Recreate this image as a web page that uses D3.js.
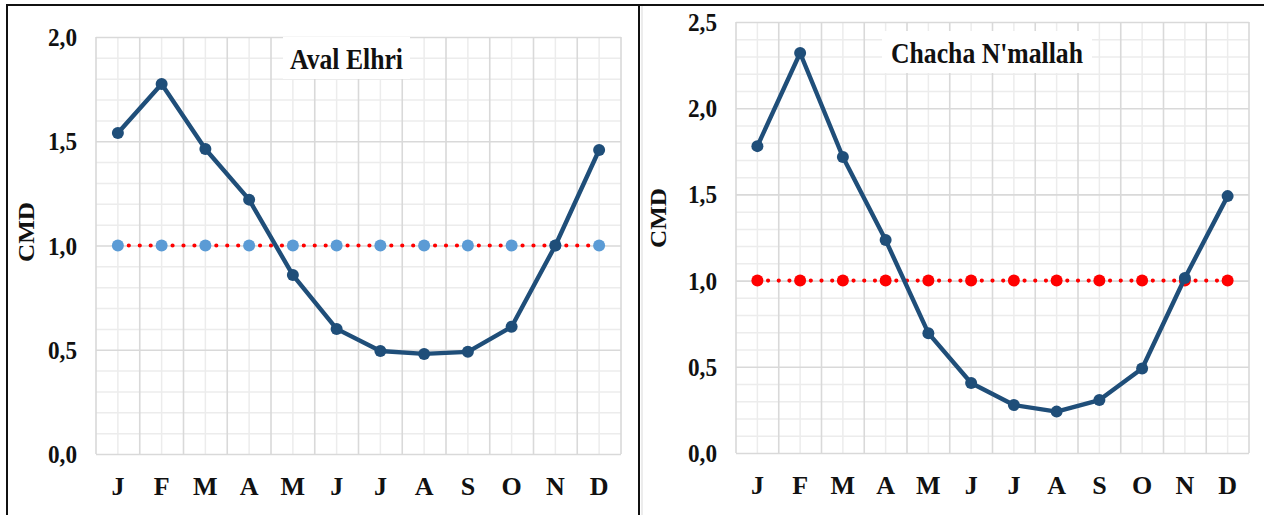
<!DOCTYPE html>
<html>
<head>
<meta charset="utf-8">
<script src="https://cdn.jsdelivr.net/npm/d3@7"></script>
<style>
  html, body { margin: 0; padding: 0; background: #fff; }
  svg { display: block; }
  text { font-family: "Liberation Serif", "Times New Roman", serif; font-weight: bold; fill: #111; }
</style>
</head>
<body>
<svg id="chart" width="1264" height="515"></svg>
<script>
// ---- data ----
const months = ["J", "F", "M", "A", "M", "J", "J", "A", "S", "O", "N", "D"];

const avalTitle = "Aval Elhri";
const avalCMD = [1.54, 1.775, 1.463, 1.22, 0.858, 0.60, 0.494, 0.48, 0.49, 0.61, 1.0, 1.458];
const avalRef = [1, 1, 1, 1, 1, 1, 1, 1, 1, 1, 1, 1];
const avalTicks = [0, 0.5, 1.0, 1.5, 2.0];

const chachaTitle = "Chacha N'mallah";
const chachaCMD = [1.78, 2.32, 1.717, 1.235, 0.695, 0.406, 0.278, 0.24, 0.307, 0.49, 1.015, 1.49];
const chachaRef = [1, 1, 1, 1, 1, 1, 1, 1, 1, 1, 1, 1];
const chachaTicks = [0, 0.5, 1.0, 1.5, 2.0, 2.5];

const yLabel = "CMD";

// ---- drawing ----
const svg = d3.select("#chart");
const fmt = d => d.toFixed(1).replace(".", ",");

function drawPanel(o) {
  const x = d3.scaleBand().domain(d3.range(months.length)).range([o.x0, o.x1]).padding(0);
  const y = d3.scaleLinear().domain([0, o.ymax]).range([o.yb, o.yt]);
  const g = svg.append("g");
  const w = o.x1 - o.x0;

  // minor horizontal grid (0.1)
  const minorY = d3.range(0, o.ymax + 1e-9, 0.1).filter(v => Math.abs(v * 2 - Math.round(v * 2)) > 1e-6);
  g.append("g").attr("transform", `translate(${o.x0},0)`)
    .call(d3.axisLeft(y).tickValues(minorY).tickSize(-w).tickFormat(""))
    .call(s => s.select(".domain").remove())
    .call(s => s.selectAll("line").attr("stroke", "#ececec").attr("stroke-width", 1.5));
  // minor vertical grid (category centres)
  g.append("g").selectAll("line").data(d3.range(months.length)).join("line")
    .attr("x1", i => x(i) + x.bandwidth() / 2).attr("x2", i => x(i) + x.bandwidth() / 2)
    .attr("y1", o.yt).attr("y2", o.yb)
    .attr("stroke", "#ececec").attr("stroke-width", 1.5);
  // major horizontal grid
  g.append("g").attr("transform", `translate(${o.x0},0)`)
    .call(d3.axisLeft(y).tickValues(o.ticks).tickSize(-w).tickFormat(""))
    .call(s => s.select(".domain").remove())
    .call(s => s.selectAll("line").attr("stroke", "#d9d9d9").attr("stroke-width", 1.6));
  // major vertical grid (category boundaries)
  g.append("g").selectAll("line").data(d3.range(months.length + 1)).join("line")
    .attr("x1", i => o.x0 + i * x.bandwidth()).attr("x2", i => o.x0 + i * x.bandwidth())
    .attr("y1", o.yt).attr("y2", o.yb)
    .attr("stroke", "#d9d9d9").attr("stroke-width", 1.6);

  // y tick labels
  const ya = g.append("g").attr("transform", `translate(${o.x0},0)`)
    .call(d3.axisLeft(y).tickValues(o.ticks).tickSize(0).tickPadding(19).tickFormat(fmt));
  ya.select(".domain").remove();
  ya.selectAll("text").attr("font-size", 25).attr("font-family", "Liberation Serif")
    .attr("font-weight", "bold").attr("fill", "#111").attr("dy", "0.34em")
    .attr("textLength", 29).attr("lengthAdjust", "spacingAndGlyphs");

  // x tick labels
  const xa = g.append("g").attr("transform", `translate(0,${o.yb})`)
    .call(d3.axisBottom(x).tickSize(0).tickPadding(23).tickFormat(i => months[i]));
  xa.select(".domain").remove();
  xa.selectAll("text").attr("font-size", 26).attr("font-family", "Liberation Serif")
    .attr("font-weight", "bold").attr("fill", "#111").attr("dy", "0.71em");

  // y axis title
  g.append("text")
    .attr("transform", `translate(${o.labelX},${o.labelY}) rotate(-90)`)
    .attr("text-anchor", "middle").attr("font-size", 23)
    .attr("textLength", 60).attr("lengthAdjust", "spacingAndGlyphs")
    .text(yLabel);

  const cx = i => x(i) + x.bandwidth() / 2;

  // reference line (dotted red)
  g.append("path").datum(o.ref)
    .attr("d", d3.line().x((d, i) => cx(i)).y(d => y(d)))
    .attr("fill", "none").attr("stroke", "#ff0000").attr("stroke-width", 4.2)
    .attr("stroke-linecap", "round")
    .attr("stroke-dasharray", `0 ${x.bandwidth() / 4}`);
  g.append("g").selectAll("circle").data(o.ref).join("circle")
    .attr("cx", (d, i) => cx(i)).attr("cy", d => y(d))
    .attr("r", o.refR).attr("fill", o.refColor);

  // CMD line
  g.append("path").datum(o.values)
    .attr("d", d3.line().x((d, i) => cx(i)).y(d => y(d)))
    .attr("fill", "none").attr("stroke", "#1f4e79").attr("stroke-width", 4.4)
    .attr("stroke-linejoin", "round");
  g.append("g").selectAll("circle").data(o.values).join("circle")
    .attr("cx", (d, i) => cx(i)).attr("cy", d => y(d))
    .attr("r", 6).attr("fill", "#1f4e79");

  // title box
  g.append("rect").attr("x", o.tb[0]).attr("y", o.tb[1]).attr("width", o.tb[2]).attr("height", o.tb[3])
    .attr("fill", "#fff");
  g.append("text").attr("x", o.tb[0] + o.tb[2] / 2).attr("y", o.titleBase)
    .attr("text-anchor", "middle").attr("font-size", 30)
    .attr("textLength", o.titleLen).attr("lengthAdjust", "spacingAndGlyphs")
    .text(o.title);
}

drawPanel({
  x0: 96, x1: 621, yt: 37, yb: 454, ymax: 2.0, ticks: avalTicks,
  values: avalCMD, ref: avalRef, refColor: "#5b9bd5", refR: 6,
  labelX: 34, labelY: 232,
  title: avalTitle, tb: [283, 37, 127, 42], titleBase: 69, titleLen: 113
});
drawPanel({
  x0: 736, x1: 1249, yt: 22, yb: 453, ymax: 2.5, ticks: chachaTicks,
  values: chachaCMD, ref: chachaRef, refColor: "#ff0000", refR: 6,
  labelX: 666, labelY: 218,
  title: chachaTitle, tb: [882, 31, 210, 42], titleBase: 63, titleLen: 192
});

// frame lines
svg.append("line").attr("x1", 6).attr("x2", 1264).attr("y1", 5).attr("y2", 5)
  .attr("stroke", "#111").attr("stroke-width", 2);
svg.append("line").attr("x1", 7).attr("x2", 7).attr("y1", 4).attr("y2", 515)
  .attr("stroke", "#111").attr("stroke-width", 2);
svg.append("line").attr("x1", 639).attr("x2", 639).attr("y1", 4).attr("y2", 515)
  .attr("stroke", "#111").attr("stroke-width", 2);
svg.append("line").attr("x1", 642).attr("x2", 642).attr("y1", 6).attr("y2", 515)
  .attr("stroke", "#d9d9d9").attr("stroke-width", 1);
</script>
</body>
</html>
